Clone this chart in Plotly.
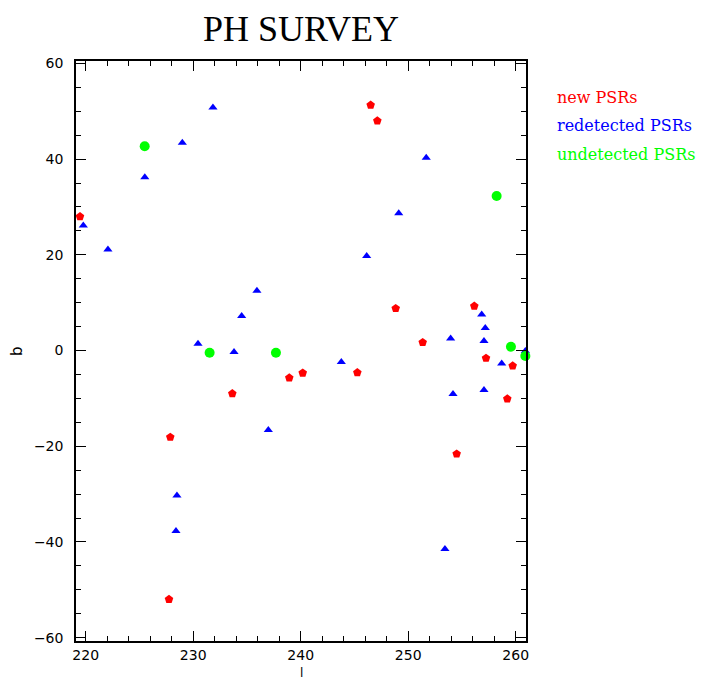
import plotly.graph_objects as go

# Data (galactic longitude l, latitude b)
new_l = [219.47, 246.51, 247.13, 248.84, 256.15, 251.35, 257.24, 259.72,
         245.27, 240.19, 238.94, 233.64, 259.22, 254.51, 227.87, 227.75]
new_b = [28.0, 51.3, 48.0, 8.8, 9.3, 1.7, -1.6, -3.2,
         -4.6, -4.7, -5.7, -9.0, -10.1, -21.6, -18.1, -52.0]

red_l = [219.78, 222.07, 225.50, 228.99, 231.84, 235.93, 234.51, 230.45,
         233.80, 251.68, 249.12, 246.14, 256.84, 257.17, 253.95, 257.05,
         260.90, 258.70, 243.78, 254.17, 257.05, 253.42, 236.99, 228.49, 228.40]
red_b = [26.1, 21.1, 36.2, 43.4, 50.8, 12.5, 7.2, 1.4,
         -0.3, 40.3, 28.7, 19.75, 7.55, 4.7, 2.5, 2.0,
         -0.1, -2.7, -2.4, -9.1, -8.25, -41.5, -16.6, -30.3, -37.7]

und_l = [225.49, 231.53, 237.70, 258.23, 259.56, 260.90]
und_b = [42.7, -0.45, -0.45, 32.3, 0.8, -1.15]

legend_labels = ["new PSRs", "redetected PSRs", "undetected PSRs"]
legend_colors = ["#ff0000", "#0000ff", "#00ff00"]

fig = go.Figure()
fig.add_trace(go.Scatter(x=red_l, y=red_b, mode="markers", cliponaxis=False,
                         marker=dict(symbol="triangle-up", size=8, color="#0000ff"),
                         name=legend_labels[1]))
fig.add_trace(go.Scatter(x=new_l, y=new_b, mode="markers", cliponaxis=False,
                         marker=dict(symbol="pentagon", size=9, color="#ff0000"),
                         name=legend_labels[0]))
fig.add_trace(go.Scatter(x=und_l, y=und_b, mode="markers", cliponaxis=False,
                         marker=dict(symbol="circle", size=10, color="#00ff00"),
                         name=legend_labels[2]))

axis_common = dict(
    showgrid=False, zeroline=False, showline=True, linecolor="black", linewidth=1.5,
    mirror="ticks", ticks="inside", ticklen=10, tickwidth=1, tickcolor="black",
    tickfont=dict(family="DejaVu Sans", size=14, color="black"),
    automargin=False,
)

fig.update_xaxes(range=[219.1, 260.96], tick0=220, dtick=10,
                 minor=dict(dtick=2, tick0=220, ticks="inside", ticklen=5, tickcolor="black"),
                 ticklabelstandoff=0,
                 **axis_common)
fig.update_yaxes(range=[-60.7, 60.5], tick0=0, dtick=20,
                 minor=dict(dtick=5, tick0=0, ticks="inside", ticklen=5, tickcolor="black"),
                 ticklabelstandoff=8,
                 **axis_common)

# axis titles
fig.add_annotation(text="l", xref="paper", yref="paper", x=0.5, y=-(681 - 641) / 580,
                   xanchor="center", yanchor="bottom", showarrow=False, borderpad=0,
                   font=dict(family="DejaVu Sans", size=12, color="black"))
fig.add_annotation(text="b", xref="paper", yref="paper", x=-(76 - 17) / 450, y=0.5,
                   xanchor="center", yanchor="middle", showarrow=False, textangle=-90,
                   font=dict(family="DejaVu Sans", size=15, color="black"))

for i, (lab, col) in enumerate(zip(legend_labels, legend_colors)):
    fig.add_annotation(text=lab, xref="paper", yref="paper", x=1.0644,
                       y=(641 - 97 - 28.5 * i) / 580, xanchor="left", yanchor="middle",
                       showarrow=False, font=dict(family="DejaVu Serif", size=16, color=col))

fig.update_layout(
    width=704, height=681,
    margin=dict(l=76, r=178, t=61, b=40),
    paper_bgcolor="white", plot_bgcolor="white",
    showlegend=False,
    title=dict(text="PH SURVEY", x=0.5, xref="paper", xanchor="center",
               y=1 - 28 / 681, yref="container", yanchor="middle",
               font=dict(family="Liberation Serif", size=36, color="black")),
)

fig.write_html("out.html")
